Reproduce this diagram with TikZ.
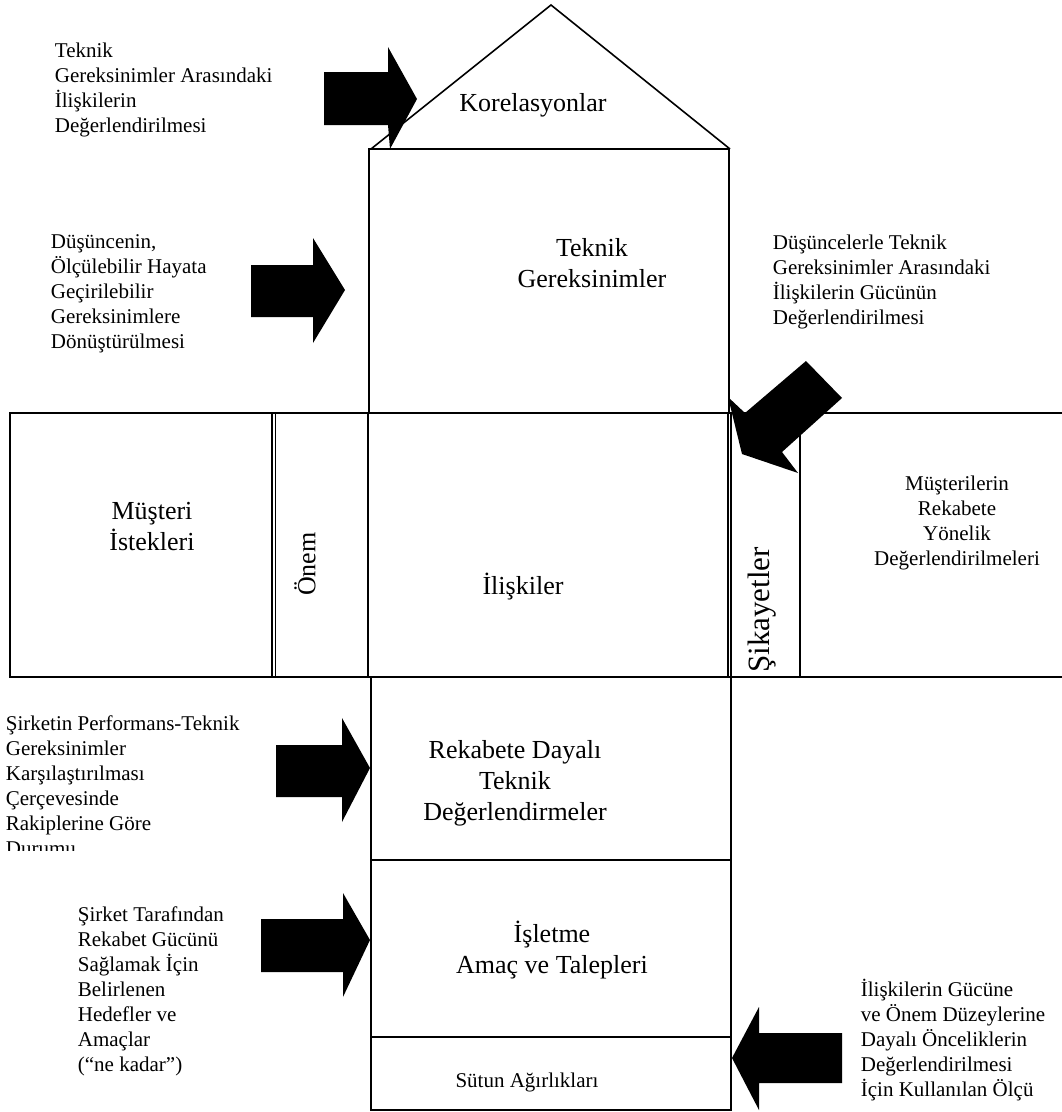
\documentclass[tikz,border=0pt]{standalone}
\usepackage{fontspec}
\setmainfont{Liberation Serif}
\begin{document}
\begin{tikzpicture}[x=1pt,y=-1pt,line width=1.8pt,
  big/.style={font=\fontsize{26}{31}\selectfont,align=center,inner sep=0pt},
  small/.style={font=\fontsize{21}{25}\selectfont,align=left,inner sep=0pt,anchor=west},
  smallc/.style={font=\fontsize{21}{25}\selectfont,align=center,inner sep=0pt},
  blockarrow/.style={fill=black,draw=none}]
\useasboundingbox (0,0) rectangle (1062,1112);
% roof and upper box
\draw[line join=miter,line width=1.6pt] (371,149) -- (551,5) -- (730,149);
\draw (369,413) -- (369,149) -- (729,149) -- (729,413);
% middle row
\draw (1062,413) -- (10,413) -- (10,677) -- (1062,677);
\draw[line width=1.8pt] (272,413) -- (272,677);
\draw[line width=1.2pt] (275.5,413) -- (275.5,677);
\draw (368,413) -- (368,677);
\draw[line width=1.3pt] (728,413) -- (728,677);
\draw[line width=1.3pt] (731,413) -- (731,677);
\draw (800,413) -- (800,677);
% lower boxes
\draw (371,677) rectangle (731,1110);
\draw (371,860) -- (731,860);
\draw (371,1037) -- (731,1037);
% block arrows
\fill[blockarrow] (324,72) -- (388,72) -- (388,47) -- (417,99) -- (390,149) -- (388,125) -- (324,125) -- cycle;
\fill[blockarrow] (251,265) -- (313,265) -- (313,238) -- (345,290) -- (313,343) -- (313,317) -- (251,317) -- cycle;
\fill[blockarrow] (276,745) -- (342,745) -- (342,718) -- (370,768) -- (342,822) -- (342,797) -- (276,797) -- cycle;
\fill[blockarrow] (261,919) -- (343,919) -- (343,893) -- (370,940) -- (343,997) -- (343,972) -- (261,972) -- cycle;
\fill[blockarrow] (842,1033) -- (759,1033) -- (759,1007) -- (732,1058) -- (759,1110) -- (759,1083) -- (842,1083) -- cycle;
\fill[blockarrow] (728,397) -- (745,413) -- (806,361) -- (842,398) -- (782,452) -- (798,473) -- (742,454) -- cycle;
% labels in the house
\node[big] (korel) at (533,105) {Korelasyonlar};
\node[big] (teknik) at (592,263) {Teknik\\Gereksinimler};
\node[big] (musteri) at (152,527) {Müşteri\\İstekleri};
\node[big,rotate=90] (onem) at (305,564) {Önem};
\node[big] (iliski) at (523,587) {İlişkiler};
\node[big,rotate=90,font=\fontsize{31}{36}\selectfont] (sikayet) at (762,610) {Şikayetler};
\node[big] (rekabet) at (515,783) {Rekabete Dayalı\\Teknik\\Değerlendirmeler};
\node[big] (isletme) at (552,950) {İşletme\\Amaç ve Talepleri};
\node[smallc] (sutun) at (527,1082) {Sütun Ağırlıkları};
\node[smallc] (musrek) at (957,523) {Müşterilerin\\Rekabete\\Yönelik\\Değerlendirilmeleri};
% side texts
\node[small] (t1) at (54,90) {Teknik\\Gereksinimler Arasındaki\\İlişkilerin\\Değerlendirilmesi};
\node[small] (t2) at (50,294) {Düşüncenin,\\Ölçülebilir Hayata\\Geçirilebilir\\Gereksinimlere\\Dönüştürülmesi};
\node[small] (t3) at (772,282) {Düşüncelerle Teknik\\Gereksinimler Arasındaki\\İlişkilerin Gücünün\\Değerlendirilmesi};
\begin{scope}
\clip (0,690) rectangle (370,850);
\node[small] (t4) at (5,786) {Şirketin Performans-Teknik\\Gereksinimler\\Karşılaştırılması\\Çerçevesinde\\Rakiplerine Göre\\Durumu};
\end{scope}
\node[small] (t5) at (77,991) {Şirket Tarafından\\Rekabet Gücünü\\Sağlamak İçin\\Belirlenen\\Hedefler ve\\Amaçlar\\(“ne kadar”)};
\node[small] (t6) at (860,1040) {İlişkilerin Gücüne\\ve Önem Düzeylerine\\Dayalı Önceliklerin\\Değerlendirilmesi\\İçin Kullanılan Ölçü};
\end{tikzpicture}
\end{document}
